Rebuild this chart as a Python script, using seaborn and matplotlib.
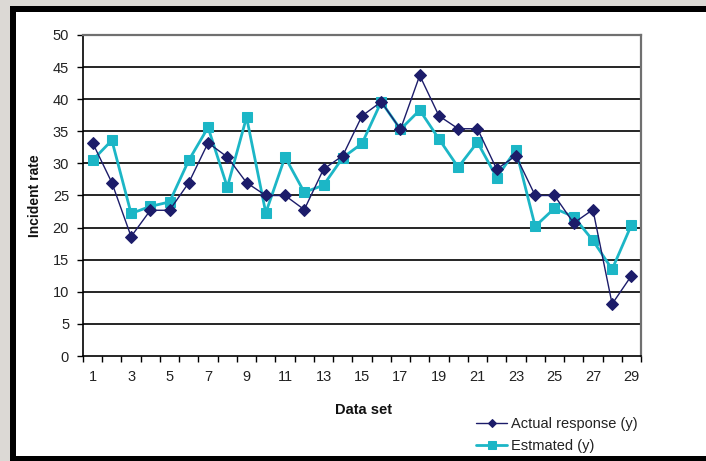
import matplotlib
matplotlib.use("Agg")
import matplotlib.pyplot as plt
from matplotlib.patches import Rectangle
from matplotlib.ticker import FixedLocator
import seaborn as sns
import pandas as pd

# Data
data_set = list(range(1, 30))
actual = [33.2, 27.0, 18.6, 22.7, 22.7, 27.0, 33.2, 31.0, 27.0, 25.0,
          25.0, 22.8, 29.1, 31.2, 37.4, 39.6, 35.3, 43.7, 37.4, 35.4,
          35.4, 29.1, 31.2, 25.0, 25.0, 20.7, 22.8, 8.1, 12.5]
estimated = [30.5, 33.6, 22.2, 23.3, 24.0, 30.5, 35.6, 26.3, 37.2, 22.3,
             31.0, 25.5, 26.6, 30.9, 33.1, 39.6, 35.3, 38.3, 33.8, 29.4,
             33.3, 27.8, 32.1, 20.2, 23.0, 21.7, 18.0, 13.5, 20.4]
series_names = ["Actual response (y)", "Estmated (y)"]
y_ticks = list(range(0, 55, 5))
x_tick_labels = [str(i) for i in range(1, 30, 2)]

sns.set_theme(style="white")
plt.rcParams["font.family"] = ["Liberation Sans", "DejaVu Sans"]

W, H = 706, 461
fig = plt.figure(figsize=(W / 100, H / 100), dpi=100, facecolor="#dcd9d5")

# Black frame with white panel behind the chart
fig.patches.append(Rectangle((10 / W, 0), 696 / W, 455 / H, transform=fig.transFigure,
                             facecolor="black", edgecolor="none", zorder=-10))
fig.patches.append(Rectangle((16 / W, 5 / H), 690 / W, 444 / H, transform=fig.transFigure,
                             facecolor="white", edgecolor="none", zorder=-9))

ax = fig.add_axes([83 / W, (H - 356) / H, (641 - 83) / W, (356 - 35) / H])
ax.set_zorder(5)
ax.set_facecolor("none")

df = pd.DataFrame({"Data set": data_set, "actual": actual, "estimated": estimated})

navy = "#1c1c6a"
cyan = "#1cb6c6"

sns.lineplot(data=df, x="Data set", y="estimated", ax=ax, color=cyan, lw=2.0,
             marker="s", markersize=7, markeredgecolor=cyan, label=series_names[1], zorder=3)
sns.lineplot(data=df, x="Data set", y="actual", ax=ax, color=navy, lw=1.0,
             marker="D", markersize=6, markeredgecolor=navy, label=series_names[0], zorder=4)

ax.set_xlim(0.5, 29.5)
ax.set_ylim(0, 50)
ax.set_yticks(y_ticks)
ax.set_yticklabels([str(v) for v in y_ticks])

# Category labels on odd points, tick marks between categories
ax.xaxis.set_major_locator(FixedLocator(list(range(1, 30, 2))))
ax.set_xticklabels(x_tick_labels)
ax.xaxis.set_minor_locator(FixedLocator([i + 0.5 for i in range(0, 30)]))
ax.tick_params(axis="x", which="major", length=0, pad=10, labelsize=10.5, labelcolor="#222222")
ax.tick_params(axis="x", which="minor", length=4, width=1, color="black", direction="out", bottom=True)
ax.tick_params(axis="y", which="major", length=4, width=1, color="black", direction="out",
               left=True, pad=6, labelsize=10.5, labelcolor="#222222")

for v in y_ticks[1:-1]:
    ax.axhline(v, color="black", lw=1.2, zorder=1)

for side in ["left", "bottom"]:
    ax.spines[side].set_color("black")
    ax.spines[side].set_linewidth(1.2)
for side in ["top", "right"]:
    ax.spines[side].set_color("#707070")
    ax.spines[side].set_linewidth(1.6)

ax.set_xlabel("Data set", fontsize=10.5, fontweight="bold", color="#111111")
ax.set_ylabel("Incident rate", fontsize=10, fontweight="bold", color="#111111")
ax.xaxis.set_label_coords(0.502, -0.145)
ax.yaxis.set_label_coords(-0.073, 0.5)

handles, labels = ax.get_legend_handles_labels()
order = [labels.index(n) for n in series_names]
ax.get_legend().remove()
leg = fig.legend([handles[i] for i in order], [labels[i] for i in order],
                 loc="upper left", bbox_to_anchor=(469 / W, (H - 410) / H),
                 frameon=False, fontsize=10.5, handlelength=2.1, handletextpad=0.3,
                 labelspacing=0.55, borderpad=0, labelcolor="#222222", markerscale=0.75)
leg.set_zorder(6)

fig.savefig("out.png", dpi=100, facecolor=fig.get_facecolor())
